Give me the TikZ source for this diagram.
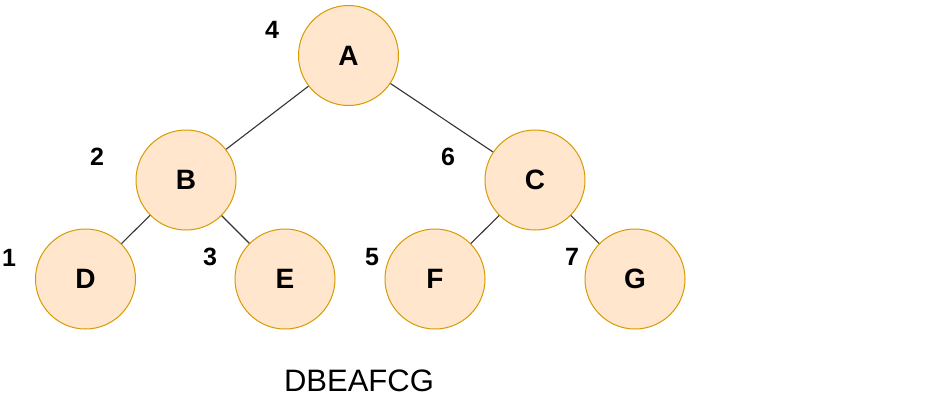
\documentclass[tikz,border=0pt]{standalone}
\usepackage{fontspec}
\setmainfont{Liberation Sans}
\definecolor{nodefill}{HTML}{FFE6CC}
\definecolor{nodedraw}{HTML}{D79B00}
\definecolor{edgecol}{HTML}{333333}
\begin{document}
\begin{tikzpicture}[x=1pt,y=-1pt,
  treenode/.style={circle,draw=nodedraw,fill=nodefill,line width=1pt,minimum size=100pt,inner sep=0pt,font=\fontsize{28}{28}\selectfont\bfseries},
  ordnum/.style={inner sep=0pt,font=\fontsize{25}{25}\selectfont\bfseries},
  edge/.style={draw=edgecol,line width=1.1pt}]
\useasboundingbox[fill=white] (0,0) rectangle (930,407);
\node[treenode] (A) at (348.5,55.5) {A};
\node[treenode] (B) at (186,180) {B};
\node[treenode] (C) at (535,180) {C};
\node[treenode] (D) at (85.5,279) {D};
\node[treenode] (E) at (285,279) {E};
\node[treenode] (F) at (435,279) {F};
\node[treenode] (G) at (635,279) {G};
\draw[edge] (A) -- (B);
\draw[edge] (A) -- (C);
\draw[edge] (B) -- (D);
\draw[edge] (B) -- (E);
\draw[edge] (C) -- (F);
\draw[edge] (C) -- (G);
\node[ordnum] (n4) at (272,30) {4};
\node[ordnum] (n2) at (97,157) {2};
\node[ordnum] (n6) at (448,157) {6};
\node[ordnum] (n1) at (9,258) {1};
\node[ordnum] (n3) at (210,257) {3};
\node[ordnum] (n5) at (372,257) {5};
\node[ordnum] (n7) at (572,257) {7};
\node[inner sep=0pt,font=\fontsize{31}{31}\selectfont] (seq) at (359,381) {DBEAFCG};
\end{tikzpicture}
\end{document}
